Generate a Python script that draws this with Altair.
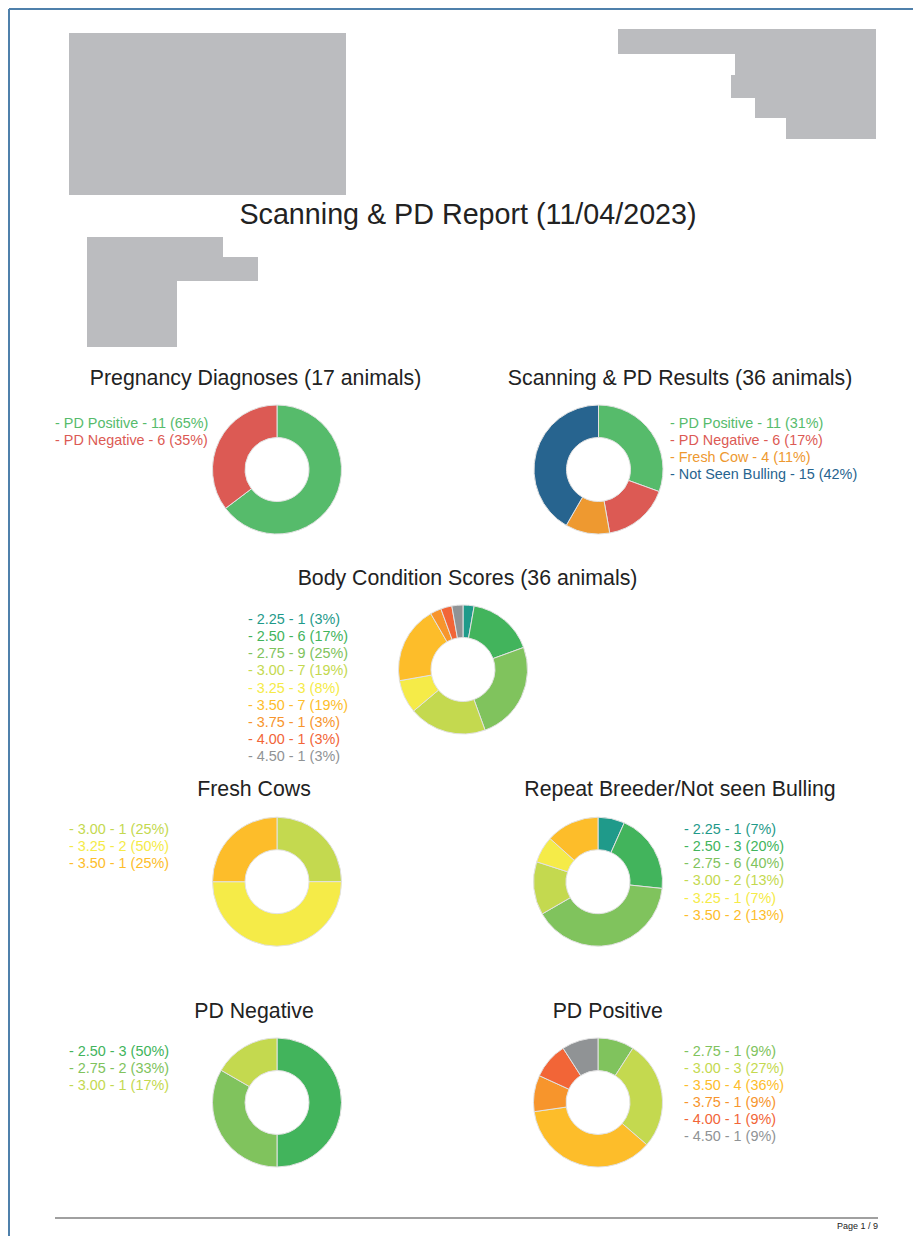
import altair as alt
import pandas as pd

# ---------------- data ----------------
report_title = "Scanning & PD Report (11/04/2023)"
panel_titles = [
    "Pregnancy Diagnoses (17 animals)",
    "Scanning & PD Results (36 animals)",
    "Body Condition Scores (36 animals)",
    "Fresh Cows",
    "Repeat Breeder/Not seen Bulling",
    "PD Negative",
    "PD Positive",
]
footer_text = "Page 1 / 9"

preg_labels = ["PD Positive", "PD Negative"]
preg_counts = [11, 6]
preg_colors = ["#56bb6b", "#dc5a54"]

scan_labels = ["PD Positive", "PD Negative", "Fresh Cow", "Not Seen Bulling"]
scan_counts = [11, 6, 4, 15]
scan_colors = ["#56bb6b", "#dc5a54", "#ee9930", "#27648f"]

bcs_palette = {
    "2.25": "#1f9a8a", "2.50": "#42b45c", "2.75": "#80c35d", "3.00": "#c4d94f",
    "3.25": "#f5eb48", "3.50": "#fdbd2a", "3.75": "#f7952c", "4.00": "#f26537",
    "4.50": "#909395",
}

bcs_scores = ["2.25", "2.50", "2.75", "3.00", "3.25", "3.50", "3.75", "4.00", "4.50"]
bcs_counts = [1, 6, 9, 7, 3, 7, 1, 1, 1]

fresh_scores = ["3.00", "3.25", "3.50"]
fresh_counts = [1, 2, 1]

repeat_scores = ["2.25", "2.50", "2.75", "3.00", "3.25", "3.50"]
repeat_counts = [1, 3, 6, 2, 1, 2]

neg_scores = ["2.50", "2.75", "3.00"]
neg_counts = [3, 2, 1]

pos_scores = ["2.75", "3.00", "3.50", "3.75", "4.00", "4.50"]
pos_counts = [1, 3, 4, 1, 1, 1]

# ---------------- helpers ----------------
M = 8  # page margin
FONT = "Liberation Sans"
GREY_BLOCK = "#bbbcbf"
LEGEND_SIZE = 14.4


def P(v):
    return v - M


def build_df(labels, counts, colors):
    total = sum(counts)
    return pd.DataFrame({
        "idx": list(range(len(labels))),
        "label": labels,
        "count": counts,
        "color": colors,
        "text": [f"- {l} - {c} ({int(c * 100 / total + 0.5)}%)" for l, c in zip(labels, counts)],
    })


def donut(df, cx, cy):
    return alt.Chart(df).mark_arc(
        innerRadius=32, outerRadius=64.5, stroke="#e2e2e2", strokeWidth=1
    ).encode(
        theta=alt.Theta("count:Q", stack=True),
        order=alt.Order("idx:Q"),
        color=alt.Color("color:N", scale=None),
        x=alt.value(P(cx)),
        y=alt.value(P(cy)),
    )


def legend(df, x, y0, step=17.05):
    n = len(df)
    return alt.Chart(df).mark_text(
        align="left", baseline="alphabetic", fontSize=LEGEND_SIZE, font=FONT
    ).encode(
        x=alt.value(P(x)),
        y=alt.Y("idx:Q", axis=None,
                scale=alt.Scale(domain=[0, max(n - 1, 1)],
                                range=[P(y0), P(y0) + max(n - 1, 1) * step],
                                nice=False, zero=False)),
        text="text:N",
        color=alt.Color("color:N", scale=None),
    )


def title(t, cx, y, size=21.3):
    return alt.Chart(pd.DataFrame({"t": [t]})).mark_text(
        align="center", baseline="alphabetic", fontSize=size, font=FONT, color="#222222"
    ).encode(x=alt.value(P(cx)), y=alt.value(P(y)), text="t:N")


def block(x1, y1, x2, y2):
    return alt.Chart(pd.DataFrame({"a": [0]})).mark_rect(color=GREY_BLOCK).encode(
        x=alt.value(P(x1)), x2=alt.value(P(x2)), y=alt.value(P(y1)), y2=alt.value(P(y2))
    )


def rule(x1, y1, x2, y2, color, w):
    return alt.Chart(pd.DataFrame({"a": [0]})).mark_rule(color=color, strokeWidth=w).encode(
        x=alt.value(x1), x2=alt.value(x2), y=alt.value(y1), y2=alt.value(y2)
    )


layers = []

# page border (left and top)
layers.append(rule(1, 1, 905, 1, "#4f80ab", 2))
layers.append(rule(1, 1, 1, 1228, "#4f80ab", 2))

# redacted header blocks
layers += [
    block(69, 33, 346, 195),
    block(618, 29, 876, 54),
    block(735, 53, 876, 76),
    block(731, 75, 876, 98),
    block(755, 97, 876, 118),
    block(786, 117, 876, 139),
    block(87, 237, 223, 258),
    block(87, 257, 258, 281),
    block(87, 280, 177, 347),
]

# main title
layers.append(title(report_title, 468, 224, size=28.7))

# panels
preg_df = build_df(preg_labels, preg_counts, preg_colors)
scan_df = build_df(scan_labels, scan_counts, scan_colors)
bcs_df = build_df(bcs_scores, bcs_counts, [bcs_palette[s] for s in bcs_scores])
fresh_df = build_df(fresh_scores, fresh_counts, [bcs_palette[s] for s in fresh_scores])
repeat_df = build_df(repeat_scores, repeat_counts, [bcs_palette[s] for s in repeat_scores])
neg_df = build_df(neg_scores, neg_counts, [bcs_palette[s] for s in neg_scores])
pos_df = build_df(pos_scores, pos_counts, [bcs_palette[s] for s in pos_scores])

layers += [
    title(panel_titles[0], 255.5, 384.5),
    donut(preg_df, 277, 469.5),
    legend(preg_df, 55, 427.7),

    title(panel_titles[1], 680, 384.5),
    donut(scan_df, 598.5, 469.5),
    legend(scan_df, 670, 427.7),

    title(panel_titles[2], 467.5, 585),
    donut(bcs_df, 463, 669.5),
    legend(bcs_df, 248, 624.3),

    title(panel_titles[3], 254, 796),
    donut(fresh_df, 277, 881.7),
    legend(fresh_df, 69, 834.3),

    title(panel_titles[4], 680, 796),
    donut(repeat_df, 598, 881.7),
    legend(repeat_df, 684, 834.3),

    title(panel_titles[5], 254, 1018.3),
    donut(neg_df, 277, 1102.5),
    legend(neg_df, 69, 1056),

    title(panel_titles[6], 607.7, 1018.3),
    donut(pos_df, 598, 1102.5),
    legend(pos_df, 684, 1055.5),
]

# footer
layers.append(rule(P(55), P(1218), P(878), P(1218), "#808080", 1.5))
layers.append(
    alt.Chart(pd.DataFrame({"t": [footer_text]})).mark_text(
        align="right", baseline="alphabetic", fontSize=9, font=FONT, color="#222222"
    ).encode(x=alt.value(P(878)), y=alt.value(P(1229)), text="t:N")
)

chart = alt.layer(*layers).resolve_scale(
    y="independent", theta="independent"
).properties(
    width=905, height=1228, padding=0, autosize="none"
).configure_view(stroke=None)

chart.save("out.html", embed_options={"renderer": "svg", "actions": False})
